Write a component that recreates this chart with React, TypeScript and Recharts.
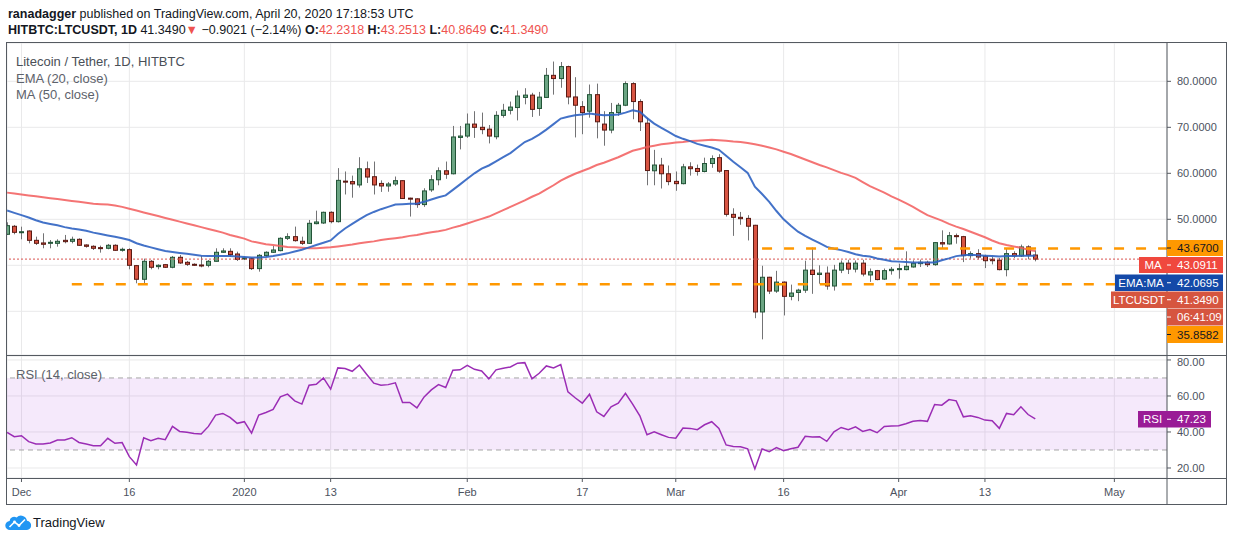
import React from 'react';
import {
  ComposedChart,
  Bar,
  Line,
  XAxis,
  YAxis,
  CartesianGrid,
  ReferenceLine,
  ReferenceArea,
} from 'recharts';

// ---------- data (daily candles, first candle = 2019-11-29) ----------
const opens = [
  46.74, 48.48, 47.2, 47.46, 45.43, 44.86, 44.78, 44.78, 45.43, 45.22,
  45.65, 44.42, 44.13, 43.84, 43.7, 44.35, 43.33, 43.4, 39.93, 36.96,
  40.87, 39.71, 40.14, 39.57, 41.74, 40.65, 40.22, 40.07, 40.0, 40.87,
  42.83, 43.04, 42.46, 41.38, 41.45, 39.28, 42.1, 42.83, 43.19, 45.87,
  46.23, 45.22, 44.78, 49.06, 49.2, 51.52, 49.49, 58.3, 58.2, 57.47,
  60.98, 59.26, 57.8, 57.25, 57.68, 58.4, 54.6, 54.45, 53.2, 56.4,
  58.6, 60.55, 59.9, 67.8, 68.1, 70.7, 70.0, 69.6, 67.95, 72.6,
  73.7, 74.3, 76.5, 77.0, 74.1, 76.5, 81.3, 80.6, 83.2, 76.6,
  74.5, 73.5, 77.1, 70.7, 69.4, 73.2, 74.8, 79.5, 75.6, 70.9,
  60.55, 61.8, 59.9, 58.25, 57.75, 61.4, 61.05, 60.4, 62.13, 63.4,
  60.6, 51.08, 50.43, 50.2, 48.7, 29.86, 37.4, 34.4, 36.35, 33.25,
  34.1, 34.6, 38.95, 38.0, 38.3, 35.5, 38.95, 40.47, 39.17, 40.47,
  37.9, 38.84, 37.0, 38.84, 39.06, 39.06, 39.64, 40.36, 40.65, 40.14,
  44.93, 44.64, 46.45, 46.23, 42.1, 42.54, 41.96, 41.3, 41.1, 39.06,
  42.54, 42.03, 44.0, 42.2318,
];
const highs = [
  49.35, 48.77, 48.4, 47.6, 46.23, 46.96, 45.5, 45.65, 46.6, 46.23,
  45.87, 44.57, 44.35, 44.28, 44.64, 44.57, 43.84, 43.7, 40.07, 41.45,
  41.16, 40.22, 40.29, 42.03, 42.25, 40.94, 40.43, 42.03, 41.16, 43.7,
  43.7, 43.7, 42.97, 41.88, 41.67, 42.46, 43.04, 44.2, 46.09, 46.96,
  48.41, 46.23, 49.86, 51.88, 51.67, 51.74, 61.13, 60.4, 59.5, 63.5,
  62.56, 62.56, 58.47, 58.1, 59.3, 58.47, 54.7, 54.6, 56.75, 59.6,
  61.3, 62.56, 70.3, 70.3, 73.0, 73.5, 73.2, 70.5, 73.5, 75.1,
  75.6, 78.0, 78.5, 77.5, 77.7, 82.9, 84.3, 84.2, 83.4, 80.9,
  75.7, 79.3, 79.5, 73.5, 75.3, 75.3, 80.0, 79.8, 76.1, 72.1,
  65.1, 63.35, 61.7, 60.4, 62.06, 62.4, 61.9, 63.4, 63.9, 64.15,
  60.7, 52.4, 51.6, 50.9, 48.8, 39.9, 37.5, 38.8, 36.5, 35.8,
  34.9, 41.0, 43.86, 40.0, 39.75, 40.1, 41.05, 41.2, 41.05, 41.2,
  39.3, 39.0, 39.3, 39.64, 40.36, 43.04, 41.09, 41.23, 41.0, 45.07,
  47.6, 47.25, 46.9, 46.4, 43.04, 43.5, 42.3, 41.8, 41.6, 43.6,
  43.04, 44.5, 44.35, 43.2513,
];
const lows = [
  46.6, 46.74, 45.65, 44.78, 44.42, 43.7, 43.7, 44.06, 44.78, 44.78,
  44.2, 43.84, 43.33, 42.75, 43.48, 43.12, 42.97, 39.13, 36.09, 35.94,
  39.13, 39.13, 39.42, 39.35, 40.29, 39.86, 39.86, 39.57, 39.57, 40.8,
  42.68, 41.88, 40.94, 41.16, 38.99, 38.62, 41.88, 42.68, 43.04, 45.5,
  45.14, 44.42, 44.64, 48.91, 48.99, 49.13, 49.3, 55.4, 54.7, 56.9,
  57.9, 55.4, 55.96, 56.0, 57.25, 54.45, 50.6, 52.5, 52.7, 55.96,
  57.4, 58.8, 59.76, 65.2, 67.7, 67.7, 68.5, 66.5, 67.4, 72.1,
  72.8, 71.5, 75.0, 72.25, 72.5, 76.4, 77.1, 78.6, 75.0, 67.8,
  68.5, 72.1, 67.6, 66.0, 68.7, 72.5, 74.6, 71.75, 69.2, 57.4,
  57.4, 56.7, 57.4, 56.2, 57.6, 59.5, 59.5, 60.2, 61.2, 60.1,
  50.6, 46.4, 48.8, 45.4, 28.5, 23.9, 33.75, 34.0, 29.1, 32.4,
  32.2, 34.0, 33.8, 36.0, 34.7, 34.5, 38.3, 38.1, 38.45, 37.6,
  36.4, 36.74, 36.8, 37.97, 37.1, 38.9, 39.5, 39.64, 39.64, 39.9,
  43.6, 44.5, 44.7, 40.7, 41.45, 41.3, 39.4, 40.2, 38.9, 37.6,
  41.6, 41.8, 41.3, 40.8649,
];
const closes = [
  48.62, 47.17, 47.3, 45.43, 44.78, 44.57, 45.0, 45.22, 45.14, 45.65,
  44.35, 44.13, 43.7, 43.7, 44.35, 43.26, 43.48, 40.0, 36.96, 40.87,
  39.57, 40.0, 39.57, 41.74, 40.51, 40.22, 40.0, 39.93, 40.87, 42.83,
  43.12, 42.32, 41.3, 41.59, 39.28, 42.17, 42.83, 43.33, 45.87, 46.23,
  45.36, 44.78, 49.13, 49.42, 51.52, 49.49, 58.47, 58.1, 57.7, 60.98,
  59.19, 57.47, 57.25, 57.68, 58.4, 54.52, 54.45, 53.2, 56.17, 58.6,
  60.55, 59.8, 67.9, 68.1, 70.7, 70.0, 69.5, 68.1, 72.6, 73.7,
  74.4, 76.8, 77.0, 73.9, 76.56, 81.3, 80.6, 83.2, 76.6, 74.8,
  73.2, 77.1, 71.2, 69.4, 73.2, 74.8, 79.5, 75.6, 71.2, 60.6,
  61.8, 59.9, 58.2, 57.75, 61.4, 61.0, 60.4, 62.13, 63.2, 60.47,
  51.08, 50.43, 50.14, 48.5, 29.86, 37.4, 34.4, 36.35, 33.25, 33.97,
  34.6, 38.95, 38.0, 38.3, 35.5, 38.95, 40.47, 39.17, 40.47, 38.1,
  38.6, 36.9, 38.84, 39.13, 39.28, 39.78, 40.43, 40.65, 40.14, 44.93,
  44.64, 46.45, 46.23, 42.1, 42.54, 41.8, 41.0, 41.0, 39.06, 42.54,
  42.03, 43.99, 42.25, 41.349,
];
const ema20 = [
  51.9, 51.4, 50.9, 50.4, 49.8, 49.3, 49.0, 48.7, 48.3, 48.0,
  47.8, 47.5, 47.1, 46.8, 46.5, 46.2, 45.9, 45.5, 44.8, 44.3,
  43.9, 43.5, 43.1, 42.9, 42.7, 42.5, 42.3, 42.1, 42.0, 42.0,
  42.0, 42.0, 41.9, 41.8, 41.7, 41.7, 41.8, 42.0, 42.3, 42.6,
  43.0, 43.4, 43.9, 44.4, 44.9, 45.4, 46.8, 48.0, 49.0, 50.0,
  50.9, 51.6, 52.2, 52.7, 53.2, 53.3, 53.4, 53.4, 53.8, 54.3,
  54.8, 55.2, 56.4, 57.6, 58.8, 60.0, 61.0, 61.7, 62.6, 63.5,
  64.4, 65.6, 66.8, 67.5, 68.4, 69.5, 70.7, 71.9, 72.3, 72.6,
  72.8, 73.0, 72.8, 72.6, 72.7, 72.8, 73.2, 73.7, 73.4, 72.0,
  70.8, 69.9, 69.0, 68.1, 67.5, 67.0, 66.4, 66.0, 65.6, 65.1,
  63.8, 62.5, 61.3, 60.1, 57.1, 55.5, 53.8, 51.8, 50.0, 48.6,
  47.3, 46.4, 45.6, 44.8, 44.0, 43.6, 43.3, 42.9, 42.4, 42.1,
  41.9, 41.5, 41.2, 40.9, 40.8, 40.7, 40.6, 40.6, 40.6, 40.6,
  41.1, 41.5, 42.0, 42.2, 42.3, 42.2, 42.1, 42.0, 41.9, 42.0,
  42.0, 42.1, 42.1, 42.07,
];
const ma50 = [
  55.8, 55.6, 55.4, 55.2, 55.0, 54.8, 54.6, 54.4, 54.2, 54.0,
  53.8, 53.6, 53.4, 53.3, 53.2, 53.0, 52.7, 52.3, 51.9, 51.5,
  51.1, 50.7, 50.3, 49.9, 49.5, 49.1, 48.7, 48.3, 47.9, 47.5,
  47.1, 46.6, 46.2, 45.8, 45.2, 44.9, 44.6, 44.4, 44.2, 44.0,
  43.9, 43.8, 43.7, 43.7, 43.8, 43.9, 44.1, 44.3, 44.5, 44.8,
  45.0, 45.2, 45.5, 45.7, 45.9, 46.1, 46.4, 46.6, 46.9, 47.2,
  47.4, 47.7, 48.2, 48.6, 49.1, 49.6, 50.1, 50.6, 51.3, 52.0,
  52.7, 53.4, 54.1, 54.9, 55.6, 56.5, 57.4, 58.4, 59.2, 59.9,
  60.5, 61.1, 61.8, 62.3, 62.9, 63.5, 64.2, 64.9, 65.3, 65.7,
  66.0, 66.3, 66.5, 66.7, 66.8, 67.0, 67.1, 67.2, 67.3, 67.2,
  67.1, 66.9, 66.8, 66.6, 66.3, 66.0, 65.6, 65.2, 64.7, 64.2,
  63.6, 63.0, 62.4, 61.8, 61.3, 60.7, 60.1, 59.6, 59.0, 58.1,
  57.2, 56.5, 55.8, 55.0, 54.3, 53.5, 52.7, 51.8, 50.9, 50.3,
  49.7, 49.0, 48.4, 47.9, 47.3, 46.7, 46.1, 45.4, 44.8, 44.4,
  44.1, 43.8, 43.4, 43.09,
];
const rsi14 = [
  39.8, 37.4, 37.9, 34.6, 33.3, 33.3, 33.9, 35.5, 35.5, 36.8,
  34.2, 33.3, 32.4, 32.4, 36.5, 33.7, 34.1, 26.3, 21.7, 36.8,
  35.2, 36.5, 35.7, 43.1, 40.3, 39.8, 39.2, 38.9, 43.1, 49.4,
  50.3, 48.1, 44.8, 45.7, 39.4, 49.4, 50.8, 52.5, 59.5, 61.0,
  57.3, 55.5, 66.0, 66.5, 70.0, 63.8, 75.6, 75.2, 73.7, 77.2,
  72.1, 67.1, 66.0, 66.3, 67.3, 56.4, 56.4, 53.4, 59.5, 63.4,
  66.3, 64.7, 74.3, 74.5, 77.0, 74.8, 73.9, 69.5, 74.5, 75.4,
  76.1, 78.2, 78.5, 69.5, 72.6, 76.7, 75.6, 77.4, 62.3, 59.0,
  56.0, 61.0, 51.2, 48.6, 54.0, 56.0, 61.5, 55.5, 49.0, 38.5,
  40.1, 38.5, 37.0, 36.5, 42.2, 42.0, 41.3, 44.0, 45.7, 42.0,
  32.8, 32.0, 31.8, 30.6, 19.5, 30.6, 29.1, 31.3, 29.6, 30.7,
  31.5, 37.6, 37.2, 37.4, 34.8, 40.1, 42.5, 41.3, 42.9, 40.3,
  41.4, 39.6, 43.1, 43.3, 43.5, 44.6, 45.9, 46.4, 45.9, 55.3,
  54.9, 58.0, 57.3, 48.4, 49.0, 48.1, 46.6, 46.2, 42.0, 50.3,
  49.6, 54.0, 49.7, 47.23,
];

// axis ticks (day number, 1 = 2019-11-29)
const timeTicks = [3, 18, 34, 46, 65, 81, 94, 109, 125, 137, 155];
const timeTickLabels = ['Dec', '16', '2020', '13', 'Feb', '17', 'Mar', '16', 'Apr', '13', 'May'];
const priceTicks = [30, 40, 50, 60, 70, 80];
const hiddenPriceTickLabels = [30, 40]; // covered by the price labels in the reference
const rsiTicks = [20, 40, 60, 80];

// levels
const supportLevel = 35.8582;
const supportStartDay = 10;
const resistanceLevel = 43.67;
const resistanceStartDay = 106;
const lastPrice = 41.349;

// domains
const DAY_MIN = 0.986;
const DAY_MAX = 162.32;
const PRICE_MIN = 20.5;
const PRICE_MAX = 88.33;
const RSI_MIN = 14.44;
const RSI_MAX = 82.2;

const data = opens.map((o, i) => ({
  t: i + 1,
  open: o,
  high: highs[i],
  low: lows[i],
  close: closes[i],
  range: [lows[i], highs[i]],
  ema: ema20[i],
  ma: ma50[i],
  rsi: rsi14[i],
}));

const FONT = '"Liberation Sans", Arial, sans-serif';
const AXIS_TEXT = '#4c525e';
const FRAME = '#555a61';

const Candle = (props: any) => {
  const { x, width, payload } = props;
  let { y, height } = props;
  if (x == null || y == null || !payload) return null;
  if (height < 0) {
    y = y + height;
    height = -height;
  }
  const { open, close, high, low } = payload;
  const up = close >= open;
  const k = height / (high - low || 1);
  const yv = (v: number) => y + (high - v) * k;
  const top = yv(Math.max(open, close));
  const bot = yv(Math.min(open, close));
  const cx = Math.round(x + width / 2) + 0.5;
  const bh = Math.max(1, bot - top);
  return (
    <g>
      <line x1={cx} x2={cx} y1={y} y2={y + height} stroke="#737375" strokeWidth={1} />
      <rect
        x={cx - 2}
        y={top}
        width={4}
        height={bh}
        fill={up ? '#6ba583' : '#d75442'}
        stroke={up ? '#225437' : '#5b1a13'}
        strokeWidth={1}
      />
    </g>
  );
};

const Tag = ({ x, y, w, h, bg, color, text, dash }: any) => (
  <g>
    <rect x={x} y={y} width={w} height={h} fill={bg} />
    {dash ? <line x1={x} x2={x + 4} y1={y + h / 2} y2={y + h / 2} stroke={color} strokeWidth={1} /> : null}
    <text
      x={dash ? x + 10 : x + w / 2}
      y={y + h / 2 + 4}
      fill={color}
      fontSize={11.5}
      textAnchor={dash ? 'start' : 'middle'}
      fontFamily={FONT}
    >
      {text}
    </text>
  </g>
);

export default function App() {
  return (
    <div
      style={{
        position: 'absolute',
        left: 0,
        top: 0,
        width: 1234,
        height: 541,
        background: '#ffffff',
        overflow: 'hidden',
        fontFamily: FONT,
      }}
    >
      {/* price pane */}
      <div style={{ position: 'absolute', left: 7, top: 43 }}>
        <ComposedChart width={1219} height={312} data={data} margin={{ top: 0, right: 0, bottom: 0, left: 0 }}>
          <CartesianGrid stroke="#e9e9ea" />
          <XAxis dataKey="t" type="number" domain={[DAY_MIN, DAY_MAX]} ticks={timeTicks} hide allowDataOverflow />
          <YAxis
            orientation="right"
            width={59}
            domain={[PRICE_MIN, PRICE_MAX]}
            ticks={priceTicks}
            allowDataOverflow
            axisLine={false}
            tickSize={4}
            tickMargin={6}
            tickLine={{ stroke: FRAME }}
            tick={{ fill: AXIS_TEXT, fontSize: 11, fontFamily: FONT }}
            tickFormatter={(v: number) => (hiddenPriceTickLabels.includes(v) ? '' : v.toFixed(4))}
          />
          <ReferenceLine
            y={lastPrice}
            stroke="#d9534f"
            strokeDasharray="2 2"
            strokeWidth={1}
            ifOverflow="extendDomain"
          />
          <Bar dataKey="range" barSize={5} isAnimationActive={false} shape={(p: any) => <Candle {...p} />} />
          <Line
            dataKey="ma"
            type="linear"
            stroke="#f25c5c"
            strokeOpacity={0.85}
            strokeWidth={2}
            dot={false}
            isAnimationActive={false}
          />
          <Line
            dataKey="ema"
            type="linear"
            stroke="#2f63c2"
            strokeOpacity={0.9}
            strokeWidth={2}
            dot={false}
            isAnimationActive={false}
          />
          <ReferenceLine
            segment={[
              { x: supportStartDay, y: supportLevel },
              { x: DAY_MAX, y: supportLevel },
            ]}
            stroke="#ff9800"
            strokeWidth={2.5}
            strokeDasharray="10 12"
          />
          <ReferenceLine
            segment={[
              { x: resistanceStartDay, y: resistanceLevel },
              { x: DAY_MAX, y: resistanceLevel },
            ]}
            stroke="#ff9800"
            strokeWidth={2.5}
            strokeDasharray="10 12"
          />
        </ComposedChart>
      </div>

      {/* RSI pane */}
      <div style={{ position: 'absolute', left: 7, top: 356 }}>
        <ComposedChart width={1219} height={148} data={data} margin={{ top: 0, right: 0, bottom: 0, left: 0 }}>
          <CartesianGrid stroke="#e9e9ea" />
          <XAxis
            dataKey="t"
            type="number"
            domain={[DAY_MIN, DAY_MAX]}
            ticks={timeTicks}
            interval={0}
            allowDataOverflow
            height={26}
            axisLine={false}
            tickSize={4}
            tickMargin={6}
            tickLine={{ stroke: FRAME }}
            tick={{ fill: AXIS_TEXT, fontSize: 11, fontFamily: FONT }}
            tickFormatter={(v: number) => timeTickLabels[timeTicks.indexOf(v)] ?? ''}
          />
          <YAxis
            orientation="right"
            width={59}
            domain={[RSI_MIN, RSI_MAX]}
            ticks={rsiTicks}
            allowDataOverflow
            axisLine={false}
            tickSize={4}
            tickMargin={6}
            tickLine={{ stroke: FRAME }}
            tick={{ fill: AXIS_TEXT, fontSize: 11, fontFamily: FONT }}
            tickFormatter={(v: number) => v.toFixed(2)}
          />
          <ReferenceArea y1={30} y2={70} fill="#9b27d9" fillOpacity={0.1} stroke="none" />
          <ReferenceLine y={70} stroke="#a5a5a5" strokeDasharray="5 4" />
          <ReferenceLine y={30} stroke="#a5a5a5" strokeDasharray="5 4" />
          <Line
            dataKey="rsi"
            type="linear"
            stroke="#9b2db5"
            strokeWidth={1.5}
            dot={false}
            isAnimationActive={false}
          />
        </ComposedChart>
      </div>

      {/* overlay: frame, texts, labels */}
      <svg
        width={1234}
        height={541}
        style={{ position: 'absolute', left: 0, top: 0, pointerEvents: 'none' }}
        fontFamily={FONT}
      >
        {/* header */}
        <text x={8} y={18} fontSize={12.5} fill="#131722">
          <tspan fontWeight="bold">ranadagger</tspan>
          <tspan>{' published on TradingView.com, April 20, 2020 17:18:53 UTC'}</tspan>
        </text>
        <text x={8} y={34} fontSize={12.5} fill="#131722">
          <tspan fontWeight="bold">HITBTC:LTCUSDT, 1D</tspan>
          <tspan>{' 41.3490'}</tspan>
          <tspan fill="#ef5350">▼</tspan>
          <tspan>{' −0.9021 (−2.14%) '}</tspan>
          <tspan fontWeight="bold">O:</tspan>
          <tspan fill="#ef5350">42.2318</tspan>
          <tspan fontWeight="bold">{' H:'}</tspan>
          <tspan fill="#ef5350">43.2513</tspan>
          <tspan fontWeight="bold">{' L:'}</tspan>
          <tspan fill="#ef5350">40.8649</tspan>
          <tspan fontWeight="bold">{' C:'}</tspan>
          <tspan fill="#ef5350">41.3490</tspan>
        </text>

        {/* legends */}
        <text x={16} y={65.5} fontSize={13} fill="#4a4f57">Litecoin / Tether, 1D, HITBTC</text>
        <text x={16} y={82.5} fontSize={13} fill="#5d626b">EMA (20, close)</text>
        <text x={16} y={98.5} fontSize={13} fill="#5d626b">MA (50, close)</text>
        <text x={16} y={378.5} fontSize={13} fill="#5d626b">RSI (14, close)</text>

        {/* frame */}
        <g stroke={FRAME} strokeWidth={1} fill="none">
          <rect x={6.5} y={42.5} width={1220} height={462} />
          <line x1={1167} x2={1167} y1={42.5} y2={504.5} />
          <line x1={6.5} x2={1226.5} y1={355.5} y2={355.5} />
          <line x1={6.5} x2={1226.5} y1={478.5} y2={478.5} />
        </g>

        {/* price labels */}
        <Tag x={1167} y={240} w={56} h={16} bg="#ff9800" color="#131722" text="43.6700" dash />
        <Tag x={1139} y={257} w={28} h={16} bg="#f0483e" color="#ffffff" text="MA" />
        <Tag x={1167} y={257} w={56} h={16} bg="#f0483e" color="#ffffff" text="43.0911" dash />
        <Tag x={1115} y={274.5} w={52} h={16.5} bg="#1449a8" color="#ffffff" text="EMA:MA" />
        <Tag x={1167} y={274.5} w={56} h={16.5} bg="#1449a8" color="#ffffff" text="42.0695" dash />
        <Tag x={1111} y={291.5} w={56} h={16.5} bg="#d6553f" color="#ffffff" text="LTCUSDT" />
        <Tag x={1167} y={291.5} w={56} h={16.5} bg="#d6553f" color="#ffffff" text="41.3490" dash />
        <Tag x={1167} y={308.5} w={56} h={17} bg="#d6553f" color="#ffffff" text="06:41:09" dash />
        <Tag x={1167} y={326} w={56} h={17} bg="#ff9800" color="#131722" text="35.8582" dash />
        <Tag x={1138} y={411} w={29} h={16.5} bg="#9a1c96" color="#ffffff" text="RSI" />
        <Tag x={1167} y={411} w={44} h={16.5} bg="#9a1c96" color="#ffffff" text="47.23" dash />

        {/* TradingView logo */}
        <path
          d="M10,530 H26 A4.6,4.6 0 0 0 27,520.8 A6,6 0 0 0 16.6,517.6 A4.4,4.4 0 0 0 9.6,521 A4.5,4.5 0 0 0 10,530 Z"
          fill="#2196f3"
        />
        <polyline points="9.5,527 14.5,522 19,525.5 25,519.5" fill="none" stroke="#ffffff" strokeWidth={1.6} />
        <circle cx={14.5} cy={522} r={1.4} fill="#ffffff" />
        <circle cx={19} cy={525.5} r={1.4} fill="#ffffff" />
        <text x={33} y={527} fontSize={13} fill="#131722">TradingView</text>
      </svg>
    </div>
  );
}
